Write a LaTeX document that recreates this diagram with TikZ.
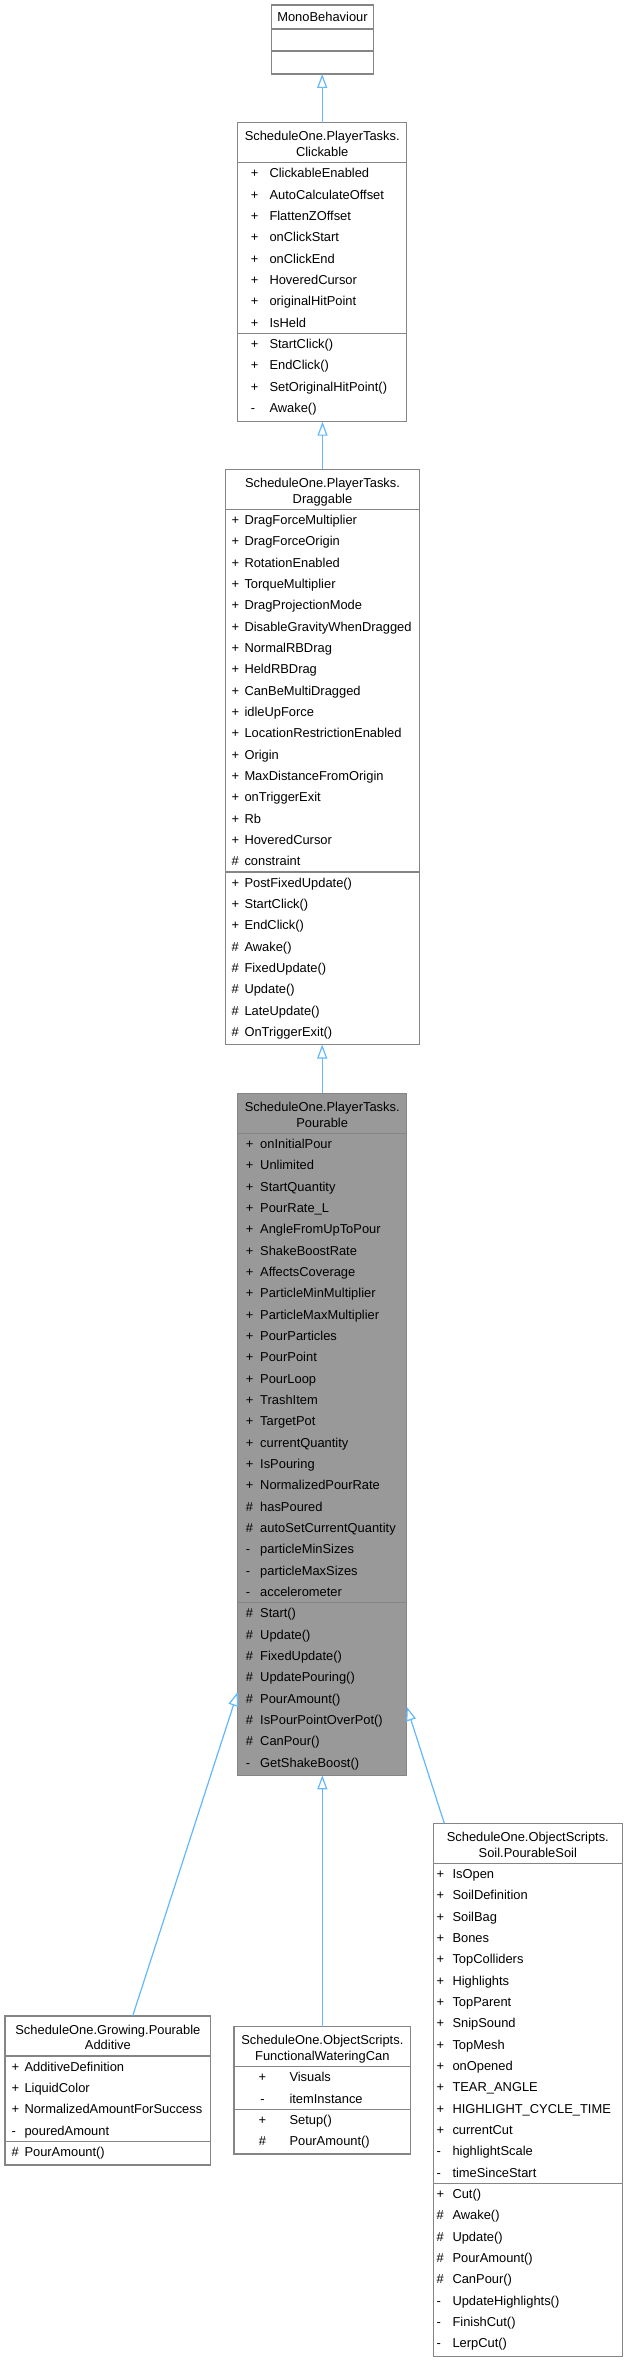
\documentclass[tikz,border=0pt]{standalone}
\usepackage{fontspec}
\setmainfont{Liberation Sans}
\usetikzlibrary{arrows.meta}
\definecolor{boxgray}{HTML}{858585}
\definecolor{mainfill}{HTML}{999999}
\definecolor{inhblue}{HTML}{63B8FF}
\newcommand\umlfont{\fontsize{12.9}{15}\selectfont}
\newcommand\umlrows[6]{%
  \foreach \vs/\vn [count=\vi from 0] in {#6} {%
    \node[symtxt, anchor=#5] (#1s\vi) at (#3, #2+\vi*21.33) {\vs};
    \node[nametxt] (#1n\vi) at (#4, #2+\vi*21.33) {\vn};
  }}
\begin{document}
\begin{tikzpicture}[x=1pt,y=-1pt,
  box/.style={draw=boxgray, line width=1.4pt, inner sep=0pt, outer sep=0pt, anchor=north west},
  sepline/.style={draw=boxgray, line width=1.4pt},
  ttl/.style={inner sep=0pt, anchor=base, font=\umlfont},
  symtxt/.style={inner sep=0pt, font=\umlfont},
  nametxt/.style={inner sep=0pt, anchor=base west, font=\umlfont},
  inh/.style={draw=inhblue, line width=1.2pt, -{Triangle[open, length=14pt, width=10pt]}}]
\useasboundingbox[fill=white] (0,0) rectangle (627,2363);

% MonoBehaviour
\node[box, minimum width=101.6pt, minimum height=69pt] (mono) at (271.7,5) {};
\draw[sepline] (271.7,29) -- (373.3,29);
\draw[sepline] (271.7,51) -- (373.3,51);
\node[ttl] (monot) at (322.5,21.6) {MonoBehaviour};

% Clickable
\node[box, minimum width=169pt, minimum height=299pt] (click) at (237.7,122.7) {};
\draw[sepline] (237.7,162.7) -- (406.7,162.7);
\draw[sepline] (237.7,333.3) -- (406.7,333.3);
\node[ttl] (clickt1) at (322.2,140.7) {ScheduleOne.PlayerTasks.};
\node[ttl] (clickt2) at (322.2,156.4) {Clickable};
\umlrows{ca}{177.9}{250.7}{269.3}{base west}{+/ClickableEnabled, +/AutoCalculateOffset, +/FlattenZOffset, +/onClickStart, +/onClickEnd, +/HoveredCursor, +/originalHitPoint, +/IsHeld}
\umlrows{cm}{348.5}{250.7}{269.3}{base west}{+/StartClick(), +/EndClick(), +/SetOriginalHitPoint(), -/Awake()}

% Draggable
\node[box, minimum width=193.6pt, minimum height=575.2pt] (drag) at (225.7,469.3) {};
\draw[sepline] (225.7,509.3) -- (419.3,509.3);
\draw[sepline] (225.7,871.9) -- (419.3,871.9);
\node[ttl] (dragt1) at (322.5,487.3) {ScheduleOne.PlayerTasks.};
\node[ttl] (dragt2) at (322.5,503) {Draggable};
\umlrows{da}{524.5}{231.5}{244.3}{base west}{+/DragForceMultiplier, +/DragForceOrigin, +/RotationEnabled, +/TorqueMultiplier, +/DragProjectionMode, +/DisableGravityWhenDragged, +/NormalRBDrag, +/HeldRBDrag, +/CanBeMultiDragged, +/idleUpForce, +/LocationRestrictionEnabled, +/Origin, +/MaxDistanceFromOrigin, +/onTriggerExit, +/Rb, +/HoveredCursor, \#/constraint}
\umlrows{dm}{887.1}{231.5}{244.3}{base west}{+/PostFixedUpdate(), +/StartClick(), +/EndClick(), \#/Awake(), \#/FixedUpdate(), \#/Update(), \#/LateUpdate(), \#/OnTriggerExit()}

% Pourable
\node[box, fill=mainfill, minimum width=169pt, minimum height=682pt] (pour) at (237.7,1093.3) {};
\draw[sepline] (237.7,1133.3) -- (406.7,1133.3);
\draw[sepline] (237.7,1602.6) -- (406.7,1602.6);
\node[ttl] (pourt1) at (322.2,1111.3) {ScheduleOne.PlayerTasks.};
\node[ttl] (pourt2) at (322.2,1127) {Pourable};
\umlrows{pa}{1148.5}{245.7}{260}{base west}{+/onInitialPour, +/Unlimited, +/StartQuantity, +/PourRate\_L, +/AngleFromUpToPour, +/ShakeBoostRate, +/AffectsCoverage, +/ParticleMinMultiplier, +/ParticleMaxMultiplier, +/PourParticles, +/PourPoint, +/PourLoop, +/TrashItem, +/TargetPot, +/currentQuantity, +/IsPouring, +/NormalizedPourRate, \#/hasPoured, \#/autoSetCurrentQuantity, -/particleMinSizes, -/particleMaxSizes, -/accelerometer}
\umlrows{pm}{1617.8}{245.7}{260}{base west}{\#/Start(), \#/Update(), \#/FixedUpdate(), \#/UpdatePouring(), \#/PourAmount(), \#/IsPourPointOverPot(), \#/CanPour(), -/GetShakeBoost()}

% PourableAdditive
\node[box, minimum width=205.7pt, minimum height=149pt] (add) at (5,2016) {};
\draw[sepline] (5,2056) -- (210.7,2056);
\draw[sepline] (5,2141.3) -- (210.7,2141.3);
\node[ttl] (addt1) at (107.9,2034) {ScheduleOne.Growing.Pourable};
\node[ttl] (addt2) at (107.9,2049.7) {Additive};
\umlrows{aa}{2071.2}{11.5}{24.3}{base west}{+/AdditiveDefinition, +/LiquidColor, +/NormalizedAmountForSuccess, -/pouredAmount}
\umlrows{am}{2156.5}{11.5}{24.3}{base west}{\#/PourAmount()}

% FunctionalWateringCan
\node[box, minimum width=176.7pt, minimum height=127.3pt] (water) at (234,2026.7) {};
\draw[sepline] (234,2066.7) -- (410.7,2066.7);
\draw[sepline] (234,2109.3) -- (410.7,2109.3);
\node[ttl] (watert1) at (322.35,2044.7) {ScheduleOne.ObjectScripts.};
\node[ttl] (watert2) at (322.35,2060.4) {FunctionalWateringCan};
\umlrows{wa}{2081.9}{262.5}{289.3}{base}{+/Visuals, -/itemInstance}
\umlrows{wm}{2124.5}{262.5}{289.3}{base}{+/Setup(), \#/PourAmount()}

% PourableSoil
\node[box, minimum width=189pt, minimum height=533.2pt] (soil) at (433.3,1823.3) {};
\draw[sepline] (433.3,1863.3) -- (622.3,1863.3);
\draw[sepline] (433.3,2183.3) -- (622.3,2183.3);
\node[ttl] (soilt1) at (527.8,1841.3) {ScheduleOne.ObjectScripts.};
\node[ttl] (soilt2) at (527.8,1857) {Soil.PourableSoil};
\umlrows{sa}{1878.5}{436.3}{452.3}{base west}{+/IsOpen, +/SoilDefinition, +/SoilBag, +/Bones, +/TopColliders, +/Highlights, +/TopParent, +/SnipSound, +/TopMesh, +/onOpened, +/TEAR\_ANGLE, +/HIGHLIGHT\_CYCLE\_TIME, +/currentCut, -/highlightScale, -/timeSinceStart}
\umlrows{sm}{2198.5}{436.3}{452.3}{base west}{+/Cut(), \#/Awake(), \#/Update(), \#/PourAmount(), \#/CanPour(), -/UpdateHighlights(), -/FinishCut(), -/LerpCut()}

% inheritance connectors
\draw[inh] (click.north) -- (click.north |- mono.south);
\draw[inh] (drag.north) -- (drag.north |- click.south);
\draw[inh] (pour.north) -- (pour.north |- drag.south);
\draw[inh] (water.north) -- (water.north |- pour.south);
\draw[inh] ([xshift=24.8pt]add.north) -- ([yshift=83.3pt]pour.south west);
\draw[inh] ([xshift=11pt]soil.north west) -- ([yshift=68.6pt]pour.south east);
\end{tikzpicture}
\end{document}
